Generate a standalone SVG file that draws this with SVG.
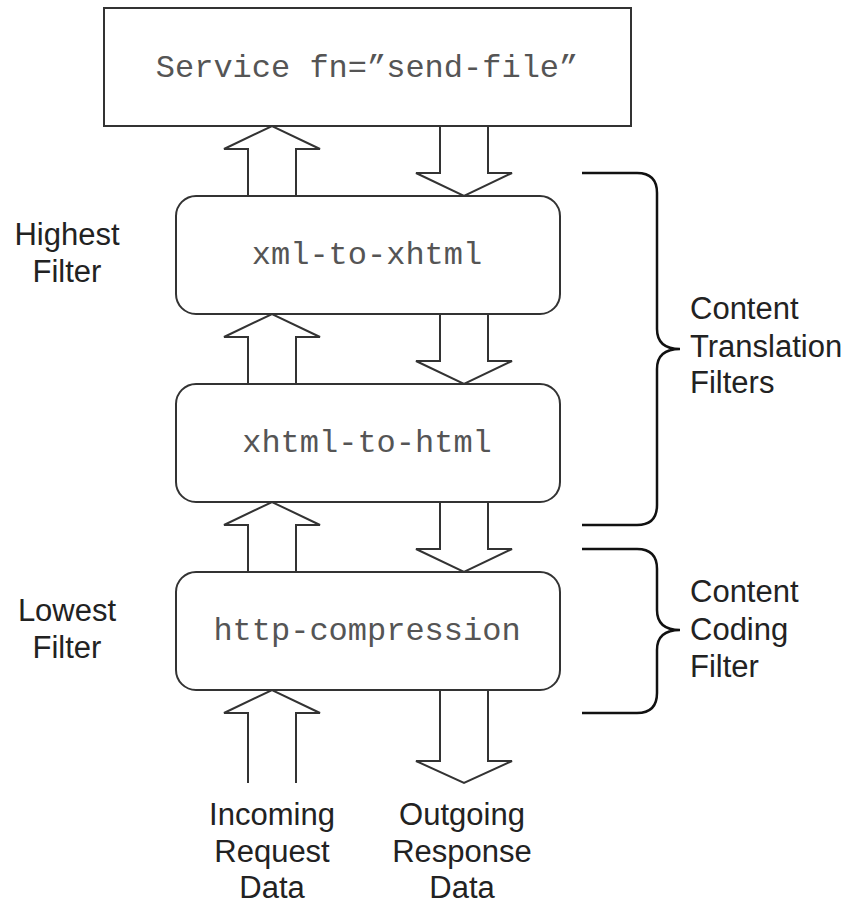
<svg xmlns="http://www.w3.org/2000/svg" width="852" height="904" viewBox="0 0 852 904">
<style>
.box{fill:#fff;stroke:#333;stroke-width:2}
.arr{fill:#fff;stroke:#333;stroke-width:2;stroke-linejoin:miter}
.br{fill:none;stroke:#111;stroke-width:2.5}
.mono{font-family:"Liberation Mono","Courier New",monospace;font-size:32px;fill:#555;text-anchor:middle}
.lbl{font-family:"Liberation Sans",Arial,sans-serif;font-size:31px;fill:#222}
.c{text-anchor:middle}
</style>
<rect width="852" height="904" fill="#fff"/>
<g id="connectors">
<path class="arr" d="M248,196 V149 H224 L272,126 L320,149 H296 V196"/>
<path class="arr" d="M440,126 V173 H416 L464,196 L512,173 H488 V126"/>
<path class="arr" d="M248,384 V337 H224 L272,314 L320,337 H296 V384"/>
<path class="arr" d="M440,314 V361 H416 L464,384 L512,361 H488 V314"/>
<path class="arr" d="M248,572 V525 H224 L272,502 L320,525 H296 V572"/>
<path class="arr" d="M440,502 V549 H416 L464,572 L512,549 H488 V502"/>
<path class="arr" d="M248,783 V713 H224 L272,690 L320,713 H296 V783"/>
<path class="arr" d="M440,690 V761 H416 L464,783 L512,761 H488 V690"/>
</g>
<g id="service">
<rect class="box" x="104" y="8" width="527" height="118"/>
<text class="mono" x="367" y="77">Service fn=”send-file”</text>
</g>
<g id="xml-to-xhtml">
<rect class="box" x="176" y="196" width="384" height="118" rx="20" ry="20"/>
<text class="mono" x="367" y="264">xml-to-xhtml</text>
</g>
<g id="xhtml-to-html">
<rect class="box" x="176" y="384" width="384" height="118" rx="20" ry="20"/>
<text class="mono" x="367" y="452">xhtml-to-html</text>
</g>
<g id="http-compression">
<rect class="box" x="176" y="572" width="384" height="118" rx="20" ry="20"/>
<text class="mono" x="367" y="640">http-compression</text>
</g>
<g id="translation-bracket">
<path class="br" d="M582,173 H637 Q657,173 657,193 V329 Q657,349 680,349 Q657,349 657,369 V505 Q657,525 637,525 H582"/>
<text class="lbl" x="690" y="319">Content</text>
<text class="lbl" x="690" y="357">Translation</text>
<text class="lbl" x="690" y="393">Filters</text>
</g>
<g id="coding-bracket">
<path class="br" d="M582,549 H637 Q657,549 657,569 V610 Q657,630 680,630 Q657,630 657,650 V693 Q657,713 637,713 H582"/>
<text class="lbl" x="690" y="602">Content</text>
<text class="lbl" x="690" y="640">Coding</text>
<text class="lbl" x="690" y="677">Filter</text>
</g>
<g id="highest-label">
<text class="lbl c" x="67" y="245">Highest</text>
<text class="lbl c" x="67" y="282">Filter</text>
</g>
<g id="lowest-label">
<text class="lbl c" x="67" y="621">Lowest</text>
<text class="lbl c" x="67" y="658">Filter</text>
</g>
<g id="incoming-label">
<text class="lbl c" x="272" y="825">Incoming</text>
<text class="lbl c" x="272" y="862">Request</text>
<text class="lbl c" x="272" y="898">Data</text>
</g>
<g id="outgoing-label">
<text class="lbl c" x="462" y="825">Outgoing</text>
<text class="lbl c" x="462" y="862">Response</text>
<text class="lbl c" x="462" y="898">Data</text>
</g>
</svg>
